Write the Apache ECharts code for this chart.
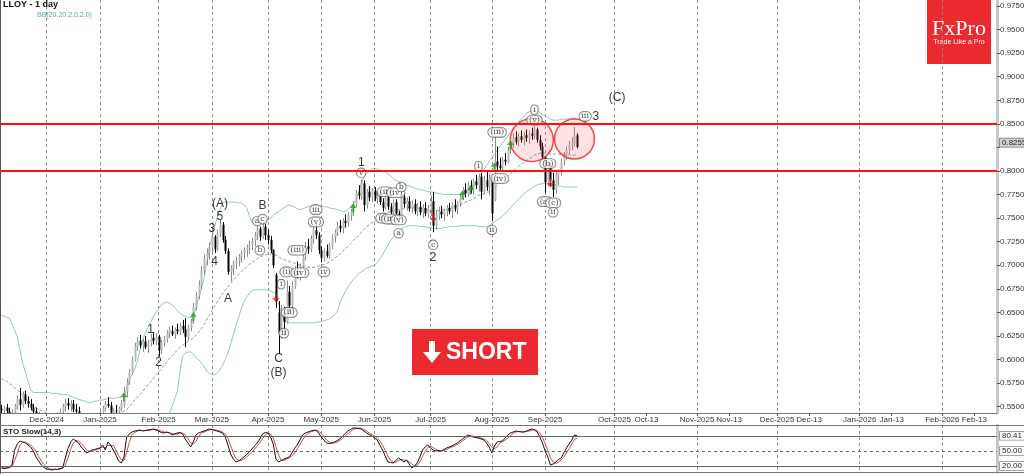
<!DOCTYPE html>
<html><head><meta charset="utf-8">
<script src="https://cdn.jsdelivr.net/npm/echarts@6/dist/echarts.min.js"></script>
<style>html,body{margin:0;padding:0;background:#fff;}#c{width:1024px;height:474px;}</style>
</head><body><div id="c"></div>
<script>
// ---------- calendar ----------
const startDate = '2024-11-07';
const axisEndDate = '2026-02-21';
const holidays = ['2024-12-25','2024-12-26','2025-01-01','2025-04-18','2025-04-21','2025-05-05','2025-05-26','2025-08-25'];

// ---------- price data (Nov | Dec | Jan | Feb | Mar | Apr | May | Jun | Jul | Aug | Sep) ----------
const opens = [
.548,.546,.549,.545,.541,.544,.551,.558,.552,.563,.556,.553,.549,.545,.540,.536,.534,
.532,.534,.537,.535,.538,.541,.545,.550,.554,.551,.553,.547,.545,.539,.534,.532,.533,.535,.534,.536,
.538,.544,.548,.553,.551,.543,.546,.545,.548,.552,.566,.576,.586,.600,.614,.620,.615,.619,.613,.618,.623,.620,
.624,.610,.618,.622,.628,.630,.627,.632,.630,.636,.632,.624,.634,.640,.656,.668,.679,.694,.707,.713,
.719,.730,.717,.734,.743,.727,.715,.693,.697,.702,.705,.709,.713,.716,.719,.722,.726,.732,.739,.730,.741,
.732,.727,.716,.690,.650,.628,.650,.640,.672,.657,.678,.694,.690,.699,.709,.720,.717,.728,.737,.732,
.716,.708,.715,.710,.721,.730,.735,.742,.739,.747,.745,.753,.757,.765,.777,.774,.787,.764,.778,.772,
.779,.771,.774,.767,.761,.772,.762,.756,.767,.755,.751,.772,.765,.768,.760,.765,.757,.762,.756,.761,.755,
.759,.768,.742,.753,.757,.754,.758,.761,.757,.764,.760,.766,.772,.780,.776,.785,.780,.789,.785,.794,.778,.790,.783,
.792,.770,.810,.806,.803,.812,.810,.822,.829,.836,.831,.837,.833,.838,.835,.840,.837,.844,.833,.826,
.815,.788,.806,.790,.780,.796,.798,.810,.816,.822,.828,.830,.838];
const highs = [
.552,.551,.553,.549,.547,.553,.562,.570,.566,.567,.561,.558,.553,.549,.544,.540,.538,
.537,.540,.541,.540,.544,.548,.553,.558,.559,.557,.557,.553,.550,.542,.538,.536,.537,.539,.538,.540,
.546,.551,.556,.560,.555,.548,.552,.550,.557,.571,.580,.590,.603,.618,.624,.626,.622,.625,.621,.627,.629,.628,
.626,.621,.625,.631,.635,.636,.634,.638,.639,.642,.644,.637,.643,.660,.672,.684,.699,.712,.718,.724,
.735,.732,.738,.748,.746,.731,.718,.700,.705,.709,.712,.716,.719,.722,.726,.729,.735,.743,.741,.747,.744,
.738,.731,.717,.692,.662,.658,.656,.684,.678,.683,.699,.704,.702,.712,.725,.728,.732,.742,.745,.735,
.720,.718,.722,.724,.733,.738,.746,.748,.750,.754,.756,.760,.768,.780,.785,.791,.790,.781,.784,.782,
.783,.778,.779,.771,.776,.775,.766,.770,.770,.758,.778,.776,.772,.773,.769,.770,.766,.768,.765,.767,.764,
.774,.778,.758,.762,.763,.760,.764,.766,.767,.770,.768,.775,.783,.787,.788,.790,.792,.796,.797,.798,.795,.800,.797,
.794,.838,.826,.814,.815,.819,.826,.832,.840,.842,.840,.843,.841,.844,.843,.846,.848,.846,.838,.830,
.816,.810,.809,.798,.800,.802,.813,.820,.826,.832,.836,.847,.840];
const lows = [
.540,.541,.543,.538,.536,.541,.547,.546,.549,.553,.549,.546,.542,.537,.533,.530,.528,
.527,.530,.531,.530,.534,.537,.541,.545,.547,.545,.544,.540,.536,.530,.528,.528,.530,.531,.530,.532,
.535,.540,.545,.549,.540,.538,.541,.539,.545,.549,.560,.573,.584,.598,.609,.612,.608,.611,.607,.614,.616,.615,
.603,.606,.614,.618,.623,.625,.622,.627,.626,.628,.613,.620,.630,.638,.652,.664,.675,.690,.700,.706,
.714,.713,.715,.730,.724,.712,.690,.683,.690,.696,.699,.703,.706,.709,.712,.716,.720,.727,.726,.728,.727,
.722,.713,.697,.655,.606,.622,.625,.638,.650,.654,.675,.686,.684,.695,.705,.712,.714,.723,.728,.712,
.703,.704,.708,.707,.717,.724,.731,.735,.734,.740,.741,.747,.752,.762,.770,.770,.757,.760,.768,.767,
.768,.765,.764,.757,.759,.759,.753,.754,.752,.745,.749,.761,.758,.757,.755,.754,.752,.753,.750,.752,.750,
.752,.735,.738,.748,.750,.747,.752,.754,.750,.757,.754,.762,.769,.772,.773,.776,.775,.781,.778,.770,.775,.779,.774,
.747,.768,.800,.799,.801,.806,.808,.818,.825,.828,.826,.830,.827,.831,.829,.833,.834,.830,.822,.812,
.777,.784,.783,.772,.776,.785,.795,.806,.812,.818,.822,.826,.824];
const closes = [
.546,.549,.545,.541,.544,.551,.558,.552,.563,.556,.553,.549,.545,.540,.536,.534,.532,
.534,.537,.535,.538,.541,.545,.550,.554,.551,.553,.547,.545,.539,.534,.532,.533,.535,.534,.536,.538,
.544,.548,.553,.551,.543,.546,.545,.548,.554,.566,.576,.586,.600,.614,.620,.615,.619,.613,.618,.623,.620,.624,
.610,.618,.622,.628,.630,.627,.632,.630,.636,.632,.624,.634,.640,.656,.668,.679,.694,.707,.713,.719,
.730,.717,.734,.743,.727,.715,.693,.697,.702,.705,.709,.713,.716,.719,.722,.726,.732,.739,.730,.741,.732,
.727,.716,.700,.662,.628,.650,.640,.672,.657,.678,.694,.690,.699,.709,.720,.717,.728,.737,.732,.716,
.708,.715,.710,.721,.730,.735,.742,.739,.747,.745,.753,.757,.765,.777,.774,.787,.764,.778,.772,.779,
.771,.774,.767,.761,.772,.762,.756,.767,.755,.751,.772,.765,.768,.760,.765,.757,.762,.756,.761,.755,.759,
.768,.742,.753,.757,.754,.758,.761,.757,.764,.760,.766,.772,.780,.776,.785,.780,.789,.785,.794,.778,.790,.783,.792,
.755,.810,.806,.803,.812,.810,.822,.829,.836,.831,.837,.833,.838,.835,.840,.837,.844,.833,.826,.815,
.788,.806,.790,.780,.796,.798,.810,.816,.822,.828,.830,.838,.8255];

// ---------- Bollinger Bands (20, 2.0) ----------
const bbUpper = [
.647,.646,.645,.644,.638,.631,.624,.610,.596,.587,.577,.568,.565,.565,.565,.565,.565,
.565,.565,.564,.564,.564,.563,.563,.563,.5625,.561,.560,.559,.558,.557,.556,.555,.554,.555,.556,.556,
.557,.557,.558,.558,.559,.559,.559,.560,.560,.561,.569,.578,.584,.590,.598,.610,.621,.628,.634,.640,.645,.650,
.654,.658,.660,.661,.660,.658,.655,.652,.649,.647,.646,.645,.644,.645,.655,.665,.675,.685,.702,.719,
.730,.741,.751,.759,.767,.767,.767,.767,.767,.767,.766,.766,.764,.761,.753,.746,.744,.743,.743,.745,.747,
.748,.750,.753,.755,.757,.759,.761,.763,.764,.763,.762,.760,.759,.760,.761,.762,.763,.764,.764,.763,
.763,.762,.762,.761,.760,.760,.759,.758,.757,.757,.759,.762,.765,.769,.778,.786,.794,.797,.800,.802,
.803,.802,.801,.800,.799,.797,.795,.792,.790,.789,.788,.787,.785,.784,.783,.782,.781,.780,.780,.779,.778,
.778,.777,.777,.776,.776,.775,.775,.775,.775,.775,.775,.775,.776,.777,.778,.780,.784,.788,.793,.797,.801,.806,.810,
.814,.818,.822,.826,.830,.833,.837,.841,.845,.848,.852,.855,.858,.8615,.863,.864,.865,.864,.862,.860,
.858,.857,.855,.854,.854,.854,.855,.855,.855,.856,.856,.856,.856];
const bbMiddle = [
.580,.578,.577,.575,.573,.570,.568,.565,.562,.559,.556,.553,.550,.549,.547,.546,.545,
.543,.542,.541,.541,.540,.540,.540,.540,.540,.540,.541,.541,.541,.541,.541,.541,.541,.541,.541,.541,
.541,.541,.541,.542,.543,.543,.543,.543,.544,.545,.547,.550,.553,.557,.560,.563,.566,.570,.573,.576,.580,.584,
.587,.590,.594,.597,.601,.604,.607,.610,.613,.615,.617,.619,.621,.623,.626,.629,.633,.637,.642,.647,
.652,.656,.661,.666,.670,.674,.677,.681,.684,.687,.690,.693,.696,.698,.701,.703,.705,.707,.709,.710,.711,
.712,.712,.712,.711,.709,.707,.706,.705,.704,.703,.702,.701,.700,.699,.699,.698,.698,.698,.698,.699,
.700,.701,.702,.703,.705,.707,.710,.712,.715,.717,.720,.723,.726,.729,.732,.735,.738,.741,.743,.745,
.747,.749,.751,.753,.755,.756,.757,.758,.759,.759,.760,.760,.761,.761,.761,.761,.761,.760,.760,.760,.759,
.759,.758,.758,.758,.758,.759,.759,.760,.761,.762,.763,.764,.765,.767,.768,.769,.771,.772,.774,.775,.776,.777,.778,
.779,.782,.785,.787,.790,.792,.795,.797,.800,.802,.805,.807,.809,.811,.813,.815,.817,.818,.819,.819,
.819,.819,.818,.818,.818,.818,.818,.817,.817,.817,.817,.817,.817];
const bbLower = [
.513,.513,.514,.515,.516,.517,.518,.519,.520,.521,.522,.523,.524,.525,.526,.527,.527,
.528,.528,.529,.529,.530,.530,.530,.530,.530,.530,.530,.530,.530,.530,.530,.530,.530,.530,.530,.530,
.530,.530,.530,.530,.530,.530,.530,.530,.530,.529,.527,.524,.521,.517,.514,.512,.511,.511,.512,.513,.516,.519,
.522,.526,.531,.536,.542,.550,.558,.566,.587,.603,.607,.608,.608,.606,.602,.600,.597,.593,.588,.585,
.584,.584,.586,.589,.594,.600,.607,.616,.626,.636,.645,.654,.661,.666,.670,.673,.674,.674,.674,.674,.674,
.674,.673,.671,.671,.660,.650,.642,.640,.639,.639,.639,.639,.639,.639,.639,.639,.639,.639,.639,.640,
.640,.641,.642,.643,.645,.648,.651,.660,.666,.672,.677,.681,.685,.688,.691,.693,.695,.697,.698,.699,
.700,.703,.707,.711,.716,.721,.726,.730,.734,.737,.739,.740,.741,.742,.742,.742,.742,.741,.741,.741,.740,
.740,.739,.739,.739,.739,.740,.740,.741,.741,.741,.741,.742,.742,.742,.742,.742,.742,.742,.741,.741,.741,.741,.742,
.744,.746,.748,.750,.752,.755,.758,.761,.764,.767,.770,.773,.776,.778,.780,.782,.784,.785,.786,.787,
.787,.786,.786,.785,.785,.784,.784,.783,.783,.783,.783,.783,.783];

// ---------- Stochastic Slow (14,3) ----------
const stoK = [
16,15,16,18,22,52,64,70,68,66,62,58,50,38,30,22,17,
14,13,12,14,13,15,16,36,55,68,74,70,66,58,52,46,49,52,53,55,
56,62,52,68,62,52,42,30,26,38,78,84,88,90,91,92,90,91,92,93,94,92,
90,87,86,88,86,82,84,86,87,84,74,66,58,68,82,86,88,90,92,94,
93,91,90,88,86,78,62,44,34,28,30,34,38,43,48,54,60,66,74,84,87,
86,78,64,34,28,31,34,36,38,46,55,62,72,82,86,88,90,91,92,86,
78,72,66,65,66,68,71,74,80,85,90,93,96,96,95,94,90,86,83,80,
76,72,62,52,40,28,27,26,31,36,32,28,32,24,16,20,26,38,52,58,62,
56,52,50,51,50,53,56,58,60,63,66,70,74,78,82,80,78,77,76,74,72,66,58,
46,60,68,69,70,76,82,86,88,90,89,88,88,90,92,94,92,88,78,66,
50,38,22,24,28,33,36,46,56,64,72,82,80.41];
const stoD = [
18,16,16,16,19,31,46,62,67,68,65,62,57,49,39,30,23,
18,15,13,13,13,14,15,22,36,53,66,71,70,65,59,52,49,49,51,53,
55,58,57,61,61,61,52,41,33,31,47,67,83,87,90,91,91,91,91,92,93,93,
92,90,88,87,87,85,84,84,86,86,82,75,66,64,69,79,85,88,90,92,
93,93,91,90,88,84,75,61,47,35,31,31,34,38,43,48,54,60,67,75,82,
86,84,76,59,42,31,31,34,36,40,46,54,63,72,80,85,88,90,91,90,
85,79,72,68,66,66,68,71,75,80,85,89,93,95,96,95,93,90,86,83,
80,76,70,62,51,40,32,27,28,31,33,32,31,28,24,20,21,28,39,49,57,
59,57,53,51,50,51,53,56,58,60,63,66,70,74,78,80,80,78,77,76,74,71,65,
57,55,58,66,69,72,76,81,85,88,89,89,88,89,90,92,93,91,86,77,
65,51,37,28,25,28,32,38,46,55,64,73,76];

// ---------- axis ticks / levels ----------
const priceTicks = [0.55,0.575,0.6,0.625,0.65,0.675,0.7,0.725,0.75,0.775,0.8,0.825,0.85,0.875,0.9,0.925,0.95,0.975];
const keyLevels = [0.846, 0.804];
const priceTags = [0.8303, 0.8255];
const stoLevels = [80, 50, 20];
const stoTags = [80.41, 50.00, 20.00];

// ---------- annotations ----------
const waveText = [
['2025-01-29',.632,'1'],['2025-02-03',.597,'2'],['2025-03-03',.739,'3'],['2025-03-04',.704,'4'],
['2025-03-06',.752,'5'],['2025-03-06',.765,'(A)'],['2025-03-11',.665,'A'],['2025-03-28',.763,'B'],
['2025-04-07',.601,'C'],['2025-04-07',.586,'(B)'],['2025-05-23',.809,'1'],['2025-07-02',.7085,'2'],
['2025-10-02',.878,'(C)'],['2025-09-24',.8576,'3']];
const waveCircled = [
['2025-03-26',.747,'a'],['2025-03-28',.749,'c'],['2025-03-27',.716,'b'],
['2025-04-08',.680,'i'],['2025-04-10',.693,'(i)'],['2025-04-09',.628,'ii'],['2025-04-11',.650,'(ii)'],
['2025-04-16',.716,'(iii)'],['2025-04-17',.692,'(iv)'],['2025-04-29',.759,'iii'],['2025-04-29',.746,'(v)'],
['2025-05-02',.693,'iv'],['2025-05-23',.798,'v'],
['2025-06-06',.778,'(ii)'],['2025-06-12',.777,'(iv)'],['2025-06-16',.783,'b'],
['2025-06-05',.750,'(i)'],['2025-06-10',.749,'(iii)'],['2025-06-13',.748,'(v)'],['2025-06-13',.734,'a'],
['2025-07-02',.7216,'c'],['2025-07-25',.805,'i'],['2025-08-05',.841,'(iii)'],['2025-08-06',.792,'(iv)'],
['2025-08-01',.7375,'ii'],['2025-08-26',.854,'(v)'],['2025-08-26',.865,'i'],
['2025-09-02',.808,'(b)'],['2025-09-01',.7675,'(a)'],['2025-09-04',.766,'(c)'],['2025-09-04',.7563,'ii'],
['2025-09-20',.858,'iii']];
const signalUp = [['2025-01-15',.5604],['2025-02-20',.6453],['2025-05-20',.7608],['2025-07-17',.7746],['2025-07-22',.7799],['2025-08-04',.8043],['2025-08-12',.8276]];
const signalDown = [['2025-04-04',.6654],['2025-07-02',.7502],['2025-09-03',.7873]];
const highlightZones = [['2025-08-22',.8329],['2025-09-16',.834]];

// ---------- build categories ----------
function ymd(d){return d.toISOString().slice(0,10);}
const cats=[];
let dd=new Date(startDate+'T00:00:00Z');
while(cats.length<closes.length){const s=ymd(dd);const w=dd.getUTCDay();if(w!==0&&w!==6&&holidays.indexOf(s)<0)cats.push(s);dd.setUTCDate(dd.getUTCDate()+1);}
const endD=new Date(axisEndDate+'T00:00:00Z');
while(dd<=endD){cats.push(ymd(dd));dd.setUTCDate(dd.getUTCDate()+1);}
const nHist=closes.length;
const MON=['Jan','Feb','Mar','Apr','May','Jun','Jul','Aug','Sep','Oct','Nov','Dec'];
function isMonthStart(i){return i>0 && cats[i].slice(5,7)!==cats[i-1].slice(5,7);}
function isLabel(i){return isMonthStart(i) || (i>=nHist && cats[i].slice(8)==='13');}
function fmtLabel(v,i){const m=MON[+v.slice(5,7)-1];return isMonthStart(i)? m+'-'+v.slice(0,4) : m+'-13';}

const ohlcRows = closes.map((c,i)=>[cats[i],opens[i],c,lows[i],highs[i]]);
const circleSizes=[43,40];
// price-axis labels: regular ticks (the one hidden under the tags dropped) + the upper tag
const priceLabelValues = priceTicks.filter(v=>Math.abs(v-0.825)>1e-9).concat([priceTags[0]]);

function renderBar(params, api){
  const idx=api.value(0), o=api.value(1), c=api.value(2), l=api.value(3), h=api.value(4);
  const pO=api.coord([idx,o]), pC=api.coord([idx,c]), pL=api.coord([idx,l]), pH=api.coord([idx,h]);
  const x=Math.round(pO[0])+0.5;
  const up=c>=o;
  const top=Math.min(pO[1],pC[1]), bot=Math.max(pO[1],pC[1]);
  return {type:'group',children:[
    {type:'line',shape:{x1:x,y1:pH[1],x2:x,y2:pL[1]},style:{stroke:up?'#8a8a8a':'#000',lineWidth:1}},
    {type:'rect',shape:{x:x-1,y:top,width:2,height:Math.max(bot-top,1)},style:{fill:up?'#b8b8b8':'#000'}}
  ]};
}

const chart=echarts.init(document.getElementById('c'),null,{renderer:'canvas'});
const axisTextColor='#333';
const gridLineStyle={color:'#8c8c8c',type:[3,3],width:1};
const hiddenLine={color:'rgba(0,0,0,0)',width:0};
const tagLabel=(txt,bg)=>({show:true,position:'end',distance:3,formatter:txt,fontSize:8,lineHeight:8,color:'#222',fontFamily:'Liberation Sans',backgroundColor:bg,borderColor:'#888',borderWidth:0.8,padding:[0,2,0,2]});
function priceLabel(v){
  const s=v.toFixed(4);
  if(Math.abs(v-priceTags[0])<1e-9) return '{tagA|'+s+'}';
  return s;
}

chart.setOption({
  animation:false,
  grid:[{left:0,right:27,top:0,height:413,containLabel:false,outerBoundsMode:'none'},
        {left:0,right:27,top:425,height:47,containLabel:false,outerBoundsMode:'none'}],
  xAxis:[
    {type:'category',gridIndex:0,data:cats,boundaryGap:true,
     axisLine:{show:true,lineStyle:{color:'#777',width:1}},
     axisTick:{show:true,interval:(i)=>isLabel(i),alignWithLabel:true,length:3,lineStyle:{color:'#555'}},
     axisLabel:{show:true,interval:(i)=>isLabel(i),formatter:fmtLabel,fontSize:8,color:axisTextColor,margin:3,fontFamily:'Liberation Sans'},
     splitLine:{show:true,interval:(i)=>isMonthStart(i),alignWithLabel:true,lineStyle:gridLineStyle}},
    {type:'category',gridIndex:1,data:cats,boundaryGap:true,
     axisLine:{show:false},axisTick:{show:false},axisLabel:{show:false},
     splitLine:{show:true,interval:(i)=>isMonthStart(i),alignWithLabel:true,lineStyle:gridLineStyle}}
  ],
  yAxis:[
    {type:'value',gridIndex:0,position:'right',min:0.5433,max:0.9814,scale:true,
     axisLine:{show:true,lineStyle:{color:'#c8c8c8',width:3}},
     axisTick:{show:true,customValues:priceTicks,length:3,lineStyle:{color:'#555'}},
     axisLabel:{show:true,customValues:priceLabelValues,formatter:priceLabel,fontSize:8,color:axisTextColor,margin:3,fontFamily:'Liberation Sans',
       rich:{
         tagA:{fontSize:8,lineHeight:8,color:'#223',backgroundColor:'#e3eaee',borderColor:'#889',borderWidth:0.8,padding:[0,2,0,2],fontFamily:'Liberation Sans'}
       }},
     splitLine:{show:false}},
    {type:'value',gridIndex:1,position:'right',min:8,max:102,
     axisLine:{show:true,lineStyle:{color:'#c8c8c8',width:3}},
     axisTick:{show:false},axisLabel:{show:false},splitLine:{show:false}}
  ],
  series:[
    {type:'line',name:'bbUpper',xAxisIndex:0,yAxisIndex:0,data:bbUpper,symbol:'none',lineStyle:{color:'#8fc6c8',width:1},z:2},
    {type:'line',name:'bbLower',xAxisIndex:0,yAxisIndex:0,data:bbLower,symbol:'none',lineStyle:{color:'#8fc6c8',width:1},z:2},
    {type:'line',name:'bbMiddle',xAxisIndex:0,yAxisIndex:0,data:bbMiddle,symbol:'none',lineStyle:{color:'#8a9898',width:1,type:[3,2]},z:2},
    {type:'custom',name:'LLOY',xAxisIndex:0,yAxisIndex:0,data:ohlcRows,renderItem:renderBar,clip:true,
     encode:{x:0,y:[1,2,3,4]},z:3},
    {type:'line',name:'levels',xAxisIndex:0,yAxisIndex:0,data:[],symbol:'none',z:12,
     markLine:{silent:true,symbol:['none','none'],animation:false,z:12,
       data:[
         ...keyLevels.map(v=>({yAxis:v,lineStyle:{color:'#ff1010',width:2,type:'solid'},label:{show:false}})),
         {yAxis:priceTags[1],lineStyle:hiddenLine,label:tagLabel(priceTags[1].toFixed(4),'#d2d2d2')}
       ]}},
    {type:'scatter',name:'zones',xAxisIndex:0,yAxisIndex:0,data:highlightZones,symbol:'circle',
     symbolSize:(v,p)=>circleSizes[p.dataIndex],
     itemStyle:{color:'rgba(255,90,90,0.22)',borderColor:'#ee2020',borderWidth:1.5},z:6},
    {type:'scatter',name:'up',xAxisIndex:0,yAxisIndex:0,data:signalUp,
     symbol:'path://M4,0 L8,5 L5,5 L5,10 L3,10 L3,5 L0,5 Z',symbolSize:[7,9],itemStyle:{color:'#1f9a1f'},z:7},
    {type:'scatter',name:'down',xAxisIndex:0,yAxisIndex:0,data:signalDown,
     symbol:'path://M4,0 L8,5 L5,5 L5,10 L3,10 L3,5 L0,5 Z',symbolRotate:180,symbolSize:[7,9],itemStyle:{color:'#d42020'},z:7},
    {type:'scatter',name:'waveText',xAxisIndex:0,yAxisIndex:0,data:waveText,symbolSize:1,itemStyle:{color:'rgba(0,0,0,0)'},
     label:{show:true,position:'inside',formatter:(p)=>p.data[2],fontSize:12,color:'#000',fontFamily:'Liberation Sans'},z:8},
    {type:'scatter',name:'waveCircled',xAxisIndex:0,yAxisIndex:0,data:waveCircled,symbolSize:1,itemStyle:{color:'rgba(0,0,0,0)'},
     label:{show:true,position:'inside',formatter:(p)=>p.data[2],fontSize:8,color:'#222',fontFamily:'DejaVu Serif',
       backgroundColor:'#fff',borderColor:'#555',borderWidth:0.8,borderRadius:6,padding:[1,2,0,2]},z:9},
    {type:'line',name:'%K',xAxisIndex:1,yAxisIndex:1,data:stoK,symbol:'none',lineStyle:{color:'#111',width:1},z:4,
     markLine:{silent:true,symbol:['none','none'],animation:false,
       data:[
         {yAxis:stoLevels[0],lineStyle:{color:'#666',width:1,type:'solid'},label:{show:false}},
         {yAxis:stoLevels[1],lineStyle:{color:'#666',width:1,type:[3,3]},label:{show:false}},
         {yAxis:stoLevels[2],lineStyle:{color:'#666',width:1,type:'solid'},label:{show:false}},
         ...stoTags.map(v=>({yAxis:v,lineStyle:hiddenLine,label:tagLabel(v.toFixed(2),'#fff')}))
       ]}},
    {type:'line',name:'%D',xAxisIndex:1,yAxisIndex:1,data:stoD,symbol:'none',lineStyle:{color:'#d04a4a',width:1},z:3}
  ],
  graphic:[
    {type:'rect',z:-1,shape:{x:927,y:0,width:64,height:64},style:{fill:'#ea2a2f'}},
    {type:'text',z:-1,style:{x:959,y:29,text:'FxPro',font:'22px "Liberation Serif"',fill:'#fff',align:'center',verticalAlign:'middle'}},
    {type:'text',z:-1,style:{x:959,y:42,text:'Trade Like a Pro',font:'7px "Liberation Sans"',fill:'#fff',align:'center',verticalAlign:'middle'}},
    {type:'rect',z:20,shape:{x:412,y:329,width:126,height:46},style:{fill:'#ea2a2f'}},
    {type:'polygon',z:21,shape:{points:[[429,341],[435,341],[435,352],[441,352],[432,363],[423,352],[429,352]]},style:{fill:'#fff'}},
    {type:'text',z:21,style:{x:446,y:353,text:'SHORT',font:'bold 23px "Liberation Sans"',fill:'#fff',verticalAlign:'middle'}},
    {type:'text',z:20,style:{x:3,y:5,text:'LLOY - 1 day',font:'bold 9px "Liberation Sans"',fill:'#111',verticalAlign:'middle'}},
    {type:'text',z:20,style:{x:37,y:15,text:'BB(20,20,2.0,2.0)',font:'7px "Liberation Sans"',fill:'#5aa6a8',verticalAlign:'middle'}},
    {type:'text',z:20,style:{x:3,y:432,text:'STO Slow(14,3)',font:'bold 8px "Liberation Sans"',fill:'#222',verticalAlign:'middle'}},
    {type:'line',z:20,shape:{x1:0.5,y1:0,x2:0.5,y2:474},style:{stroke:'#555',lineWidth:1}},
    {type:'line',z:20,shape:{x1:0,y1:425.5,x2:1024,y2:425.5},style:{stroke:'#777',lineWidth:1}},
    {type:'line',z:20,shape:{x1:0,y1:472.5,x2:1024,y2:472.5},style:{stroke:'#777',lineWidth:1}}
  ]
});
</script></body></html>
